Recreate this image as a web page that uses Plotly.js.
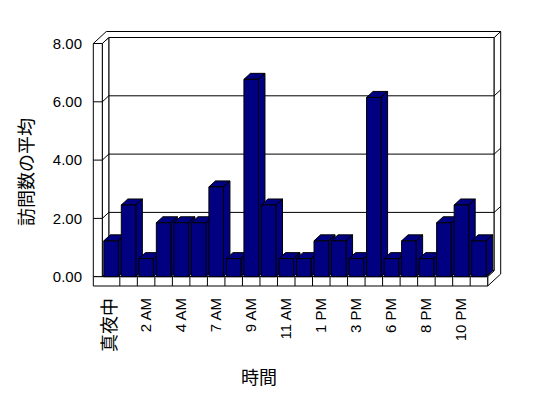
<!DOCTYPE html>
<html>
<head>
<meta charset="utf-8">
<script src="https://cdn.plot.ly/plotly-3.0.1.min.js"></script>
<style>html,body{margin:0;padding:0;background:#fff;}#chart{width:548px;height:398px;}</style>
</head>
<body>
<div id="chart"></div>
<script>
// ---- data ----
const categories = ['真夜中','1 AM','2 AM','3 AM','4 AM','5 AM','7 AM','8 AM','9 AM','10 AM','11 AM','正午',
                    '1 PM','2 PM','3 PM','5 PM','6 PM','7 PM','8 PM','9 PM','10 PM','11 PM'];
const visits = [1.23, 2.46, 0.62, 1.85, 1.85, 1.85, 3.08, 0.62, 6.77, 2.46, 0.62, 0.62,
                1.23, 1.23, 0.62, 6.15, 0.62, 1.23, 0.62, 1.85, 2.46, 1.23];
const yTickVals = [0, 2, 4, 6, 8];
const yTitle = '訪問数の平均';
const xTitle = '時間';

// ---- layout geometry (pixels) ----
const W = 548, H = 398;
const ML = 90, MR = 44, MT = 28, MB = 108;
const X0PX = 102.3, X1PX = 487.7;     // category band edges (front plane)
const Y0PX = 276.7, Y8PX = 43.5;      // value 0 and 8 on front plane
const N = categories.length;
const xs = (X1PX - X0PX) / N;
const ys = (Y0PX - Y8PX) / 8;
const xRange = [-0.5 - (X0PX - ML) / xs, (N - 0.5) + ((W - MR) - X1PX) / xs];
const yRange = [-((H - MB) - Y0PX) / ys, 8 + (Y8PX - MT) / ys];
const DX = 6.5 / xs, DY = 6 / ys;     // depth offset
const SL = 9 / xs;                    // left wall thickness
const FT = 9.3 / ys;                  // floor thickness
const BW = 0.83;                      // bar width
const XL = -0.5, XR = N - 0.5, YT = 8;

const BAR = '#000080';
const LATIN = '"Liberation Sans", Arial, "Noto Sans CJK JP", sans-serif';
const CJK = '"Noto Sans CJK JP", "Liberation Sans", sans-serif';

function poly(pts) {
  return 'M' + pts.map(p => p[0] + ',' + p[1]).join('L') + 'Z';
}
function line(pts) {
  return 'M' + pts.map(p => p[0] + ',' + p[1]).join('L');
}
const frame = {type: 'path', xref: 'x', yref: 'y', layer: 'below',
               fillcolor: '#ffffff', line: {color: '#000', width: 1}};
const shapes = [];
function addPoly(pts) { shapes.push(Object.assign({}, frame, {path: poly(pts)})); }
function addLine(pts) { shapes.push(Object.assign({}, frame, {path: line(pts), fillcolor: 'rgba(0,0,0,0)'})); }

// back wall inner face
addPoly([[XL + DX, DY], [XR + DX, DY], [XR + DX, YT + DY], [XL + DX, YT + DY]]);
// floor top
addPoly([[XL, 0], [XR, 0], [XR + DX, DY], [XL + DX, DY]]);
// left wall inner face
addPoly([[XL, 0], [XL + DX, DY], [XL + DX, YT + DY], [XL, YT]]);
// right side of floor + back wall
addPoly([[XR, -FT], [XR + 2 * DX, 2 * DY - FT], [XR + 2 * DX, YT + 2 * DY],
         [XR + DX, YT + DY], [XR + DX, DY], [XR, 0]]);
// top of walls
addPoly([[XL - SL, YT], [XL, YT], [XL + DX, YT + DY], [XR + DX, YT + DY],
         [XR + 2 * DX, YT + 2 * DY], [XL - SL + 2 * DX, YT + 2 * DY]]);
// left wall front face
addPoly([[XL - SL, 0], [XL, 0], [XL, YT], [XL - SL, YT]]);
// floor front face
addPoly([[XL - SL, -FT], [XR, -FT], [XR, 0], [XL - SL, 0]]);
for (let k = 0; k < N - 1; k++) addLine([[k + 0.5, -FT], [k + 0.5, 0]]);
// gridlines
yTickVals.filter(v => v > 0 && v < 8).forEach(g => {
  addLine([[XL - SL, g], [XL, g], [XL + DX, g + DY], [XR + DX, g + DY], [XR + 2 * DX, g + 2 * DY]]);
});

// ---- bar sides and tops (drawn per bar, left to right) ----
const xIdx = categories.map((c, i) => i);
const traces = [];
visits.forEach((v, i) => {
  const l = i - BW / 2, r = i + BW / 2;
  const px = [r, r + DX, r + DX, r, r, null, l, r, r + DX, l + DX, l];
  const py = [0, DY, v + DY, v, 0, null, v, v, v + DY, v + DY, v];
  traces.push({type: 'scatter', mode: 'lines', x: px, y: py, fill: 'toself',
               fillcolor: BAR, line: {color: '#000', width: 1}, connectgaps: false,
               hoverinfo: 'skip', showlegend: false, xaxis: 'x', yaxis: 'y'});
});
// ---- bar front faces ----
traces.push({type: 'bar', x: xIdx, y: visits, width: BW, xaxis: 'x2', yaxis: 'y2',
             marker: {color: BAR, line: {color: '#000', width: 1}},
             hoverinfo: 'skip', showlegend: false});

const tickIdx = xIdx.filter(i => i % 2 === 0);
const tickText = tickIdx.map(i => /[A-Za-z]/.test(categories[i]) ? categories[i]
                    : '<span style="font-size:18px">' + categories[i] + '</span>');

function pxToPaperX(p) { return (p - ML) / (W - ML - MR); }
function pxToPaperY(p) { return ((H - MB) - p) / (H - MT - MB); }

const layout = {
  width: W, height: H,
  margin: {l: ML, r: MR, t: MT, b: MB, pad: 0},
  paper_bgcolor: '#fff', plot_bgcolor: 'rgba(0,0,0,0)',
  showlegend: false, hovermode: false,
  font: {family: LATIN, size: 15, color: '#000'},
  xaxis: {type: 'linear', range: xRange, showgrid: false, zeroline: false, showline: false,
          tickmode: 'array', tickvals: tickIdx, ticktext: tickText, tickangle: -90,
          ticks: '', ticklabelstandoff: 4, fixedrange: true,
          tickfont: {family: LATIN, size: 15, color: '#000'}},
  yaxis: {type: 'linear', range: yRange, showgrid: false, zeroline: false, showline: false,
          tickmode: 'array', tickvals: yTickVals, tickformat: '.2f', ticks: '',
          ticklabelstandoff: 7, fixedrange: true,
          tickfont: {family: LATIN, size: 15, color: '#000'}},
  xaxis2: {type: 'linear', range: xRange, overlaying: 'x', anchor: 'y2', visible: false, fixedrange: true},
  yaxis2: {type: 'linear', range: yRange, overlaying: 'y', anchor: 'x2', visible: false, fixedrange: true},
  bargap: 0,
  shapes: shapes,
  annotations: [
    {text: xTitle, xref: 'paper', yref: 'paper', x: pxToPaperX(259), y: pxToPaperY(375.5),
     xanchor: 'center', yanchor: 'middle', showarrow: false, font: {family: CJK, size: 18, color: '#000'}},
    {text: yTitle, xref: 'paper', yref: 'paper', x: pxToPaperX(25), y: pxToPaperY(172),
     xanchor: 'center', yanchor: 'middle', textangle: -90, showarrow: false,
     font: {family: CJK, size: 18, color: '#000'}}
  ]
};

Plotly.newPlot('chart', traces, layout, {displayModeBar: false, staticPlot: true});
</script>
</body>
</html>
